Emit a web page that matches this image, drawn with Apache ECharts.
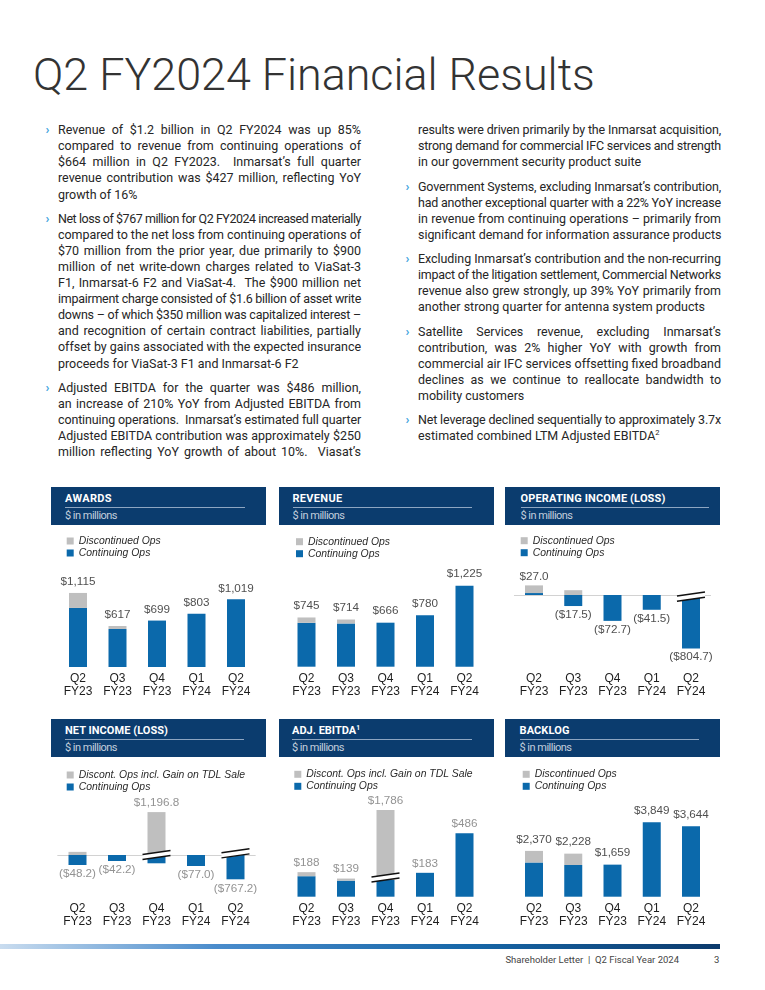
<!DOCTYPE html>
<html><head><meta charset="utf-8">
<script src="https://cdn.jsdelivr.net/npm/echarts@6/dist/echarts.min.js"></script>
<style>
html,body{margin:0;padding:0;background:#fff;}
body{width:765px;height:990px;position:relative;overflow:hidden;font-family:Roboto,'Noto Sans',sans-serif;color:#262626;}
#title{position:absolute;left:33px;top:48px;font-family:Roboto,'Noto Sans',sans-serif;font-weight:300;font-size:48px;line-height:48px;white-space:pre;color:#333;}
.ln{position:absolute;white-space:pre;line-height:16px;height:16px;}
.ln span{display:inline-block;transform-origin:0 50%;}
.bul{position:absolute;color:#3ea4de;line-height:16px;font-weight:700;}
sup{font-size:0.6em;line-height:0;vertical-align:0.6em;}
.hdr{position:absolute;background:#0b3c6e;height:38px;}
.hdr .t{position:absolute;top:5px;color:#fff;font-family:Roboto,sans-serif;font-weight:700;font-size:11px;line-height:14px;white-space:pre;}
.hdr .rule{position:absolute;top:20px;height:1px;background:#8ea6c2;}
.hdr .s{position:absolute;top:22px;color:#c3cfdd;font-family:Roboto,sans-serif;font-size:11px;line-height:13px;white-space:pre;}
.chart{position:absolute;width:215px;height:175px;}
#footbar{position:absolute;left:0;top:944px;width:720px;height:5px;background:linear-gradient(to right,#c9dcef 0%,#4a8ccc 30%,#1767a8 65%,#0c3a6c 100%);}
#foot{position:absolute;top:953px;left:480px;width:199px;text-align:right;font-size:9.5px;line-height:14px;color:#444;white-space:pre;}
#pg{position:absolute;top:953px;left:714px;font-size:9.5px;line-height:14px;color:#444;}
</style>
</head>
<body>
<div id="title">Q2 FY2024 Financial Results</div>
<div id="text"></div>
<div id="hdrs"></div>
<div id="c1" class="chart" style="left:51px;top:527px"></div>
<div id="c2" class="chart" style="left:279px;top:527px"></div>
<div id="c3" class="chart" style="left:505px;top:527px"></div>
<div id="c4" class="chart" style="left:51px;top:759px"></div>
<div id="c5" class="chart" style="left:279px;top:759px"></div>
<div id="c6" class="chart" style="left:505px;top:759px"></div>
<div id="footbar"></div>
<div id="foot">Shareholder Letter  |  Q2 Fiscal Year 2024</div>
<div id="pg">3</div>
<script>
// ---------------- DATA ----------------
const quarters = ['Q2', 'Q3', 'Q4', 'Q1', 'Q2'];
const fiscalYears = ['FY23', 'FY23', 'FY23', 'FY24', 'FY24'];

const awardsContinuing = [889, 572, 699, 803, 1019];
const awardsDiscontinued = [226, 45, 0, 0, 0];
const awardsLabels = ['$1,115', '$617', '$699', '$803', '$1,019'];

const revenueContinuing = [664, 654, 666, 780, 1225];
const revenueDiscontinued = [81, 60, 0, 0, 0];
const revenueLabels = ['$745', '$714', '$666', '$780', '$1,225'];

const opIncomeContinuing = [5.5, -31.0, -72.7, -41.5, -804.7];
const opIncomeDiscontinued = [21.5, 13.5, 0, 0, 0];
const opIncomeLabels = ['$27.0', '($17.5)', '($72.7)', '($41.5)', '($804.7)'];

const netIncomeContinuing = [-70.0, -42.2, -58.0, -77.0, -767.2];
const netIncomeDiscontinued = [21.8, 0, 1254.8, 0, 0];
const netIncomeLabels = ['($48.2)', '($42.2)', '$1,196.8', '($77.0)', '($767.2)'];

const ebitdaContinuing = [157, 123, 128, 183, 486];
const ebitdaDiscontinued = [31, 16, 1658, 0, 0];
const ebitdaLabels = ['$188', '$139', '$1,786', '$183', '$486'];

const backlogContinuing = [1770, 1640, 1659, 3849, 3644];
const backlogDiscontinued = [600, 588, 0, 0, 0];
const backlogLabels = ['$2,370', '$2,228', '$1,659', '$3,849', '$3,644'];

// ---------------- TEXT ----------------
const leftParagraphs = [
  {bullet: true, lines: [
    'Revenue of $1.2 billion in Q2 FY2024 was up 85%',
    'compared to revenue from continuing operations of',
    '$664 million in Q2 FY2023.  Inmarsat’s full quarter',
    'revenue contribution was $427 million, reflecting YoY',
    'growth of 16%']},
  {bullet: true, lines: [
    'Net loss of $767 million for Q2 FY2024 increased materially',
    'compared to the net loss from continuing operations of',
    '$70 million from the prior year, due primarily to $900',
    'million of net write-down charges related to ViaSat-3',
    'F1, Inmarsat-6 F2 and ViaSat-4.  The $900 million net',
    'impairment charge consisted of $1.6 billion of asset write',
    'downs – of which $350 million was capitalized interest –',
    'and recognition of certain contract liabilities, partially',
    'offset by gains associated with the expected insurance',
    'proceeds for ViaSat-3 F1 and Inmarsat-6 F2']},
  {bullet: true, justifyLast: true, lines: [
    'Adjusted EBITDA for the quarter was $486 million,',
    'an increase of 210% YoY from Adjusted EBITDA from',
    'continuing operations.  Inmarsat’s estimated full quarter',
    'Adjusted EBITDA contribution was approximately $250',
    'million reflecting YoY growth of about 10%.  Viasat’s']}
];
const rightParagraphs = [
  {bullet: false, lines: [
    'results were driven primarily by the Inmarsat acquisition,',
    'strong demand for commercial IFC services and strength',
    'in our government security product suite']},
  {bullet: true, justifyLast: true, lines: [
    'Government Systems, excluding Inmarsat’s contribution,',
    'had another exceptional quarter with a 22% YoY increase',
    'in revenue from continuing operations – primarily from',
    'significant demand for information assurance products']},
  {bullet: true, lines: [
    'Excluding Inmarsat’s contribution and the non-recurring',
    'impact of the litigation settlement, Commercial Networks',
    'revenue also grew strongly, up 39% YoY primarily from',
    'another strong quarter for antenna system products']},
  {bullet: true, lines: [
    'Satellite Services revenue, excluding Inmarsat’s',
    'contribution, was 2% higher YoY with growth from',
    'commercial air IFC services offsetting fixed broadband',
    'declines as we continue to reallocate bandwidth to',
    'mobility customers']},
  {bullet: true, lines: [
    'Net leverage declined sequentially to approximately 3.7x',
    'estimated combined LTM Adjusted EBITDA<sup>2</sup>']}
];

const BODY_FS = 13;
const textHost = document.getElementById('text');
function calibrate() {
  const probe = document.createElement('span');
  probe.style.cssText = 'position:absolute;white-space:pre;visibility:hidden;font-size:' + BODY_FS + 'px';
  probe.textContent = 'another strong quarter for antenna system products';
  document.body.appendChild(probe);
  const w = probe.getBoundingClientRect().width;
  probe.remove();
  return 287 / w;
}
const sx = calibrate();

function layoutColumn(paras, textLeft, bulletLeft, width) {
  let y = 130.7;
  const W = width / sx;
  paras.forEach((p, pi) => {
    if (pi > 0) y += 24.3 - 16.08;
    p.lines.forEach((line, li) => {
      const div = document.createElement('div');
      div.className = 'ln';
      div.style.left = textLeft + 'px';
      div.style.top = (y - 8.5) + 'px';
      div.style.fontSize = BODY_FS + 'px';
      const sp = document.createElement('span');
      sp.innerHTML = line;
      div.appendChild(sp);
      textHost.appendChild(div);
      const justify = li < p.lines.length - 1 || p.justifyLast;
      const w = sp.getBoundingClientRect().width;
      const txt = sp.textContent;
      if (justify && w < W) {
        const n = (txt.match(/ /g) || []).length;
        if (n) sp.style.wordSpacing = ((W - w) / n) + 'px';
      } else if (w > W) {
        sp.style.letterSpacing = ((W - w) / txt.length) + 'px';
      }
      sp.style.transform = 'scaleX(' + sx + ')';
      if (li === 0 && p.bullet) {
        const b = document.createElement('div');
        b.className = 'bul';
        b.textContent = '›';
        b.style.left = bulletLeft + 'px';
        b.style.top = (y - 8.5) + 'px';
        b.style.fontSize = '13px';
        textHost.appendChild(b);
      }
      y += 16.08;
    });
  });
}
layoutColumn(leftParagraphs, 57.5, 45.5, 303);
layoutColumn(rightParagraphs, 417.7, 405.5, 303);

// title fit
(function () {
  const t = document.getElementById('title');
  const r = document.createElement('span');
  r.style.cssText = 'display:inline-block;white-space:pre';
  r.textContent = t.textContent; t.textContent = ''; t.appendChild(r);
  const w = r.getBoundingClientRect().width;
  const fs = 48 * 562 / w;
  t.style.fontSize = fs + 'px'; t.style.lineHeight = fs + 'px';
  const mark = document.createElement('span');
  mark.style.cssText = 'display:inline-block;width:0;height:0;vertical-align:baseline';
  t.appendChild(mark);
  const base = mark.getBoundingClientRect().top - t.getBoundingClientRect().top;
  t.style.top = (90 - base) + 'px';
})();

// panel headers
const panels = [
  {title: 'AWARDS', left: 51, top: 487, width: 215, tx: 65, rr: 245, tw: 47},
  {title: 'REVENUE', left: 279, top: 487, width: 215, tx: 292.5, rr: 472, tw: 50},
  {title: 'OPERATING INCOME (LOSS)', left: 505, top: 487, width: 215, tx: 520.5, rr: 709, tw: 145},
  {title: 'NET INCOME (LOSS)', left: 51, top: 719, width: 215, tx: 65, rr: 244, tw: 103},
  {title: 'ADJ. EBITDA<sup>1</sup>', left: 279, top: 719, width: 215, tx: 292, rr: 472, tw: 68},
  {title: 'BACKLOG', left: 505, top: 719, width: 215, tx: 519.5, rr: 699, tw: 50}
];
const hdrHost = document.getElementById('hdrs');
panels.forEach(p => {
  const h = document.createElement('div');
  h.className = 'hdr';
  h.style.left = p.left + 'px'; h.style.top = p.top + 'px'; h.style.width = p.width + 'px';
  h.innerHTML = '<div class="t"><span style="display:inline-block">' + p.title + '</span></div>' +
    '<div class="rule"></div><div class="s"><span style="display:inline-block">$ in millions</span></div>';
  hdrHost.appendChild(h);
  const t = h.querySelector('.t'), rule = h.querySelector('.rule'), s = h.querySelector('.s');
  t.style.left = (p.tx - p.left) + 'px';
  s.style.left = (p.tx - p.left) + 'px';
  rule.style.left = (p.tx - p.left) + 'px';
  rule.style.width = (p.rr - p.tx) + 'px';
  const tsp = t.firstChild;
  const w = tsp.getBoundingClientRect().width;
  tsp.style.letterSpacing = ((p.tw - w) / tsp.textContent.length) + 'px';
  const ssp = s.firstChild;
  const w2 = ssp.getBoundingClientRect().width;
  ssp.style.letterSpacing = ((52 - w2) / ssp.textContent.length) + 'px';
});

// ---------------- CHARTS ----------------
const BLUE = '#0b69ab';
const GRAY = '#bfbfbf';
const FONT = '"Liberation Sans", Arial, sans-serif';
const categories = quarters.map((q, i) => q + '\n' + fiscalYears[i]);

function makeChart(id, cfg) {
  const chart = echarts.init(document.getElementById(id), null, {renderer: 'canvas'});
  const anchors = cfg.cont.map((c, i) => {
    const d = cfg.disc[i];
    const pos = Math.max(c, 0) + Math.max(d, 0);
    const neg = Math.min(c, 0) + Math.min(d, 0);
    const total = c + d;
    return total >= 0
      ? {value: Math.min(pos, cfg.max), label: {position: 'top', distance: cfg.distTop}}
      : {value: Math.max(neg, cfg.min), label: {position: 'bottom', distance: cfg.distBottom}};
  });
  chart.setOption({
    animation: false,
    textStyle: {fontFamily: FONT},
    legend: {
      data: [cfg.discName, cfg.contName], orient: 'vertical', left: cfg.legendLeft, top: cfg.legendTop,
      itemWidth: 7, itemHeight: 7, itemGap: 0, padding: 0, icon: 'rect', selectedMode: false,
      textStyle: {fontStyle: 'italic', fontSize: 10.4, color: '#2a2a2a', lineHeight: 12, fontFamily: FONT}
    },
    grid: {left: cfg.gridLeft, width: cfg.gridWidth, top: cfg.gridTop, bottom: cfg.gridBottom, containLabel: false, outerBoundsMode: 'none'},
    xAxis: [
      {type: 'category', data: categories, position: 'bottom',
        axisLine: {show: false, onZero: false}, axisTick: {show: false}, splitLine: {show: false},
        axisLabel: {show: true, interval: 0, margin: cfg.labelMargin, color: '#1e1e1e', fontSize: 12, lineHeight: 13.5, fontFamily: FONT}},
      {type: 'category', data: categories, position: 'bottom',
        axisLine: {show: !!cfg.zeroLine, onZero: true, lineStyle: {color: '#d2d2d2', width: 1}},
        axisTick: {show: false}, axisLabel: {show: false}, splitLine: {show: false}}
    ],
    yAxis: {type: 'value', min: cfg.min, max: cfg.max, show: false, splitLine: {show: false}},
    series: [
      {name: cfg.contName, type: 'bar', stack: 's', data: cfg.cont, barWidth: 18, itemStyle: {color: BLUE}},
      {name: cfg.discName, type: 'bar', stack: 's', data: cfg.disc, barWidth: 18, itemStyle: {color: GRAY}},
      {type: 'scatter', data: anchors, symbolSize: 1, itemStyle: {color: 'rgba(0,0,0,0)'}, clip: false, silent: true,
        label: {show: true, formatter: p => cfg.labels[p.dataIndex], color: cfg.labelColor, fontSize: 11.7, fontFamily: FONT}}
    ]
  });
  const g = [];
  (cfg.breaks || []).forEach(b => {
    const pt = chart.convertToPixel({seriesIndex: 0}, [b.index, b.value]);
    const cx = pt[0], cy = pt[1], hw = 14, sl = 2, gap = 2.6;
    const a1 = [cx - hw, cy - gap + sl], a2 = [cx + hw, cy - gap - sl];
    const b1 = [cx - hw, cy + gap + sl], b2 = [cx + hw, cy + gap - sl];
    g.push({type: 'polygon', shape: {points: [a1, a2, b2, b1]}, style: {fill: '#fff'}, z: 100});
    g.push({type: 'line', shape: {x1: a1[0], y1: a1[1], x2: a2[0], y2: a2[1]}, style: {stroke: '#111', lineWidth: 1.5}, z: 101});
    g.push({type: 'line', shape: {x1: b1[0], y1: b1[1], x2: b2[0], y2: b2[1]}, style: {stroke: '#111', lineWidth: 1.5}, z: 101});
  });
  if (g.length) chart.setOption({graphic: {elements: g}});
  return chart;
}

makeChart('c1', {cont: awardsContinuing, disc: awardsDiscontinued, labels: awardsLabels,
  contName: 'Continuing Ops', discName: 'Discontinued Ops', legendLeft: 15.7, legendTop: 8,
  gridLeft: 7.25, gridWidth: 197.5, gridTop: 60.3, gridBottom: 35, min: 0, max: 1200,
  labelMargin: 4.5, distTop: 4.5, distBottom: 2, labelColor: '#222'});
makeChart('c2', {cont: revenueContinuing, disc: revenueDiscontinued, labels: revenueLabels,
  contName: 'Continuing Ops', discName: 'Discontinued Ops', legendLeft: 17, legendTop: 8.7,
  gridLeft: 7.75, gridWidth: 197.5, gridTop: 53.8, gridBottom: 35.3, min: 0, max: 1300,
  labelMargin: 4.8, distTop: 5, distBottom: 2, labelColor: '#222'});
makeChart('c3', {cont: opIncomeContinuing, disc: opIncomeDiscontinued, labels: opIncomeLabels,
  contName: 'Continuing Ops', discName: 'Discontinued Ops', legendLeft: 15.7, legendTop: 7.7,
  gridLeft: 9.375, gridWidth: 196.25, gridTop: 53.76, gridBottom: 53.6, min: -150, max: 40,
  labelMargin: 23.1, distTop: 2, distBottom: 2, labelColor: '#222', zeroLine: true,
  breaks: [{index: 4, value: -4.5}]});
makeChart('c4', {cont: netIncomeContinuing, disc: netIncomeDiscontinued, labels: netIncomeLabels,
  contName: 'Continuing Ops', discName: 'Discont. Ops incl. Gain on TDL Sale', legendLeft: 15.7, legendTop: 10,
  gridLeft: 6.75, gridWidth: 197.5, gridTop: 53.1, gridBottom: 54.7, min: -170, max: 300,
  labelMargin: 22.3, distTop: 2.5, distBottom: 2.5, labelColor: '#777', zeroLine: true,
  breaks: [{index: 2, value: 0}, {index: 4, value: 12}]});
makeChart('c5', {cont: ebitdaContinuing, disc: ebitdaDiscontinued, labels: ebitdaLabels,
  contName: 'Continuing Ops', discName: 'Discont. Ops incl. Gain on TDL Sale', legendLeft: 15.3, legendTop: 9.3,
  gridLeft: 7.75, gridWidth: 197.5, gridTop: 50.9, gridBottom: 37.3, min: 0, max: 665,
  labelMargin: 4.8, distTop: 2.8, distBottom: 2, labelColor: '#777',
  breaks: [{index: 2, value: 147}]});
makeChart('c6', {cont: backlogContinuing, disc: backlogDiscontinued, labels: backlogLabels,
  contName: 'Continuing Ops', discName: 'Discontinued Ops', legendLeft: 17.7, legendTop: 9.3,
  gridLeft: 9.375, gridWidth: 196.25, gridTop: 60.4, gridBottom: 37.3, min: 0, max: 4000,
  labelMargin: 4.8, distTop: 5, distBottom: 2, labelColor: '#222'});
</script>
</body></html>
